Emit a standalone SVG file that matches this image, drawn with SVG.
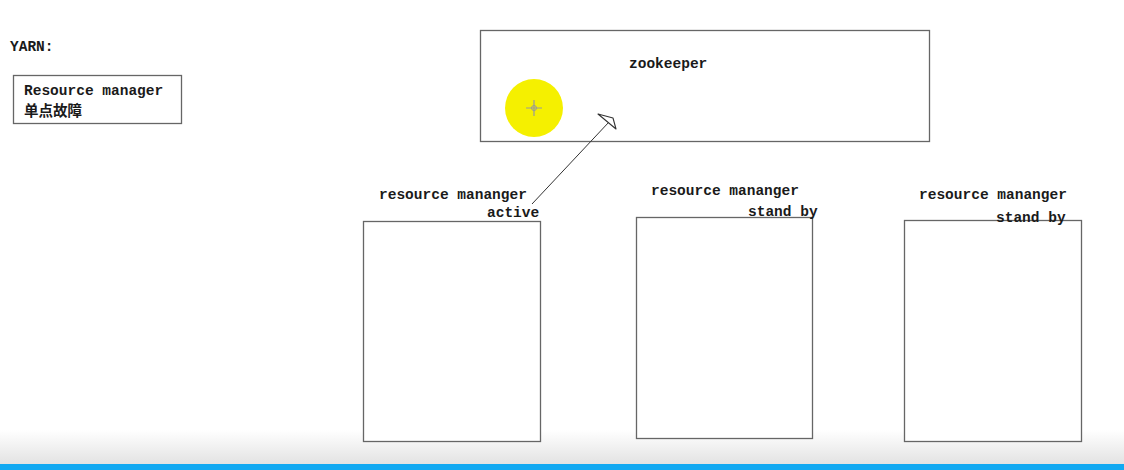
<svg xmlns="http://www.w3.org/2000/svg" width="1124" height="470" viewBox="0 0 1124 470">
<defs>
<style>
.t{font-family:"Liberation Mono","Noto Sans CJK SC",monospace;font-size:14.5px;fill:#1a1a1a;font-weight:bold}
.box{fill:#fff;stroke:#666;stroke-width:1.3}
</style>
<linearGradient id="bg" x1="0" y1="0" x2="0" y2="1">
<stop offset="0" stop-color="#ffffff"/>
<stop offset="1" stop-color="#e2e2e2"/>
</linearGradient>
</defs>
<rect width="1124" height="470" fill="#fff"/>
<rect x="0" y="430" width="1124" height="35" fill="url(#bg)"/>
<rect x="0" y="464" width="1124" height="6" fill="#12a9f2"/>
<g id="title"><text class="t" x="10" y="51">YARN:</text></g>
<g id="note">
<rect class="box" x="13.5" y="75.5" width="168" height="48"/>
<text class="t" x="24" y="95">Resource manager</text>
<text class="t" x="24" y="116">单点故障</text>
</g>
<g id="zookeeper">
<rect class="box" x="480.5" y="30.5" width="449" height="111"/>
<text class="t" x="629" y="68">zookeeper</text>
</g>
<g id="cursor">
<circle cx="534" cy="108" r="29" fill="#f5f000"/>
<path d="M534,100 V116 M526,108 H542" stroke="#999" stroke-width="1.2"/>
<circle cx="534" cy="108" r="2.5" fill="none" stroke="#999" stroke-width="1"/>
</g>
<g id="rm1">
<rect class="box" x="363.5" y="221.5" width="177" height="220"/>
<text class="t" x="379" y="199">resource mananger</text>
<text class="t" x="487" y="217">active</text>
</g>
<g id="rm2">
<rect class="box" x="636.5" y="217.5" width="176" height="221"/>
<text class="t" x="651" y="195">resource mananger</text>
<text class="t" x="748" y="216">stand by</text>
</g>
<g id="rm3">
<rect class="box" x="904.5" y="220.5" width="177" height="221"/>
<text class="t" x="919" y="199">resource mananger</text>
<text class="t" x="996" y="222">stand by</text>
</g>
<g id="connectors">
<line x1="532" y1="204" x2="609" y2="122" stroke="#333" stroke-width="1"/>
<path d="M598,114 L613,118 L616,129 Z" fill="#fff" stroke="#333" stroke-width="1.1" stroke-linejoin="round"/>
</g>
</svg>
